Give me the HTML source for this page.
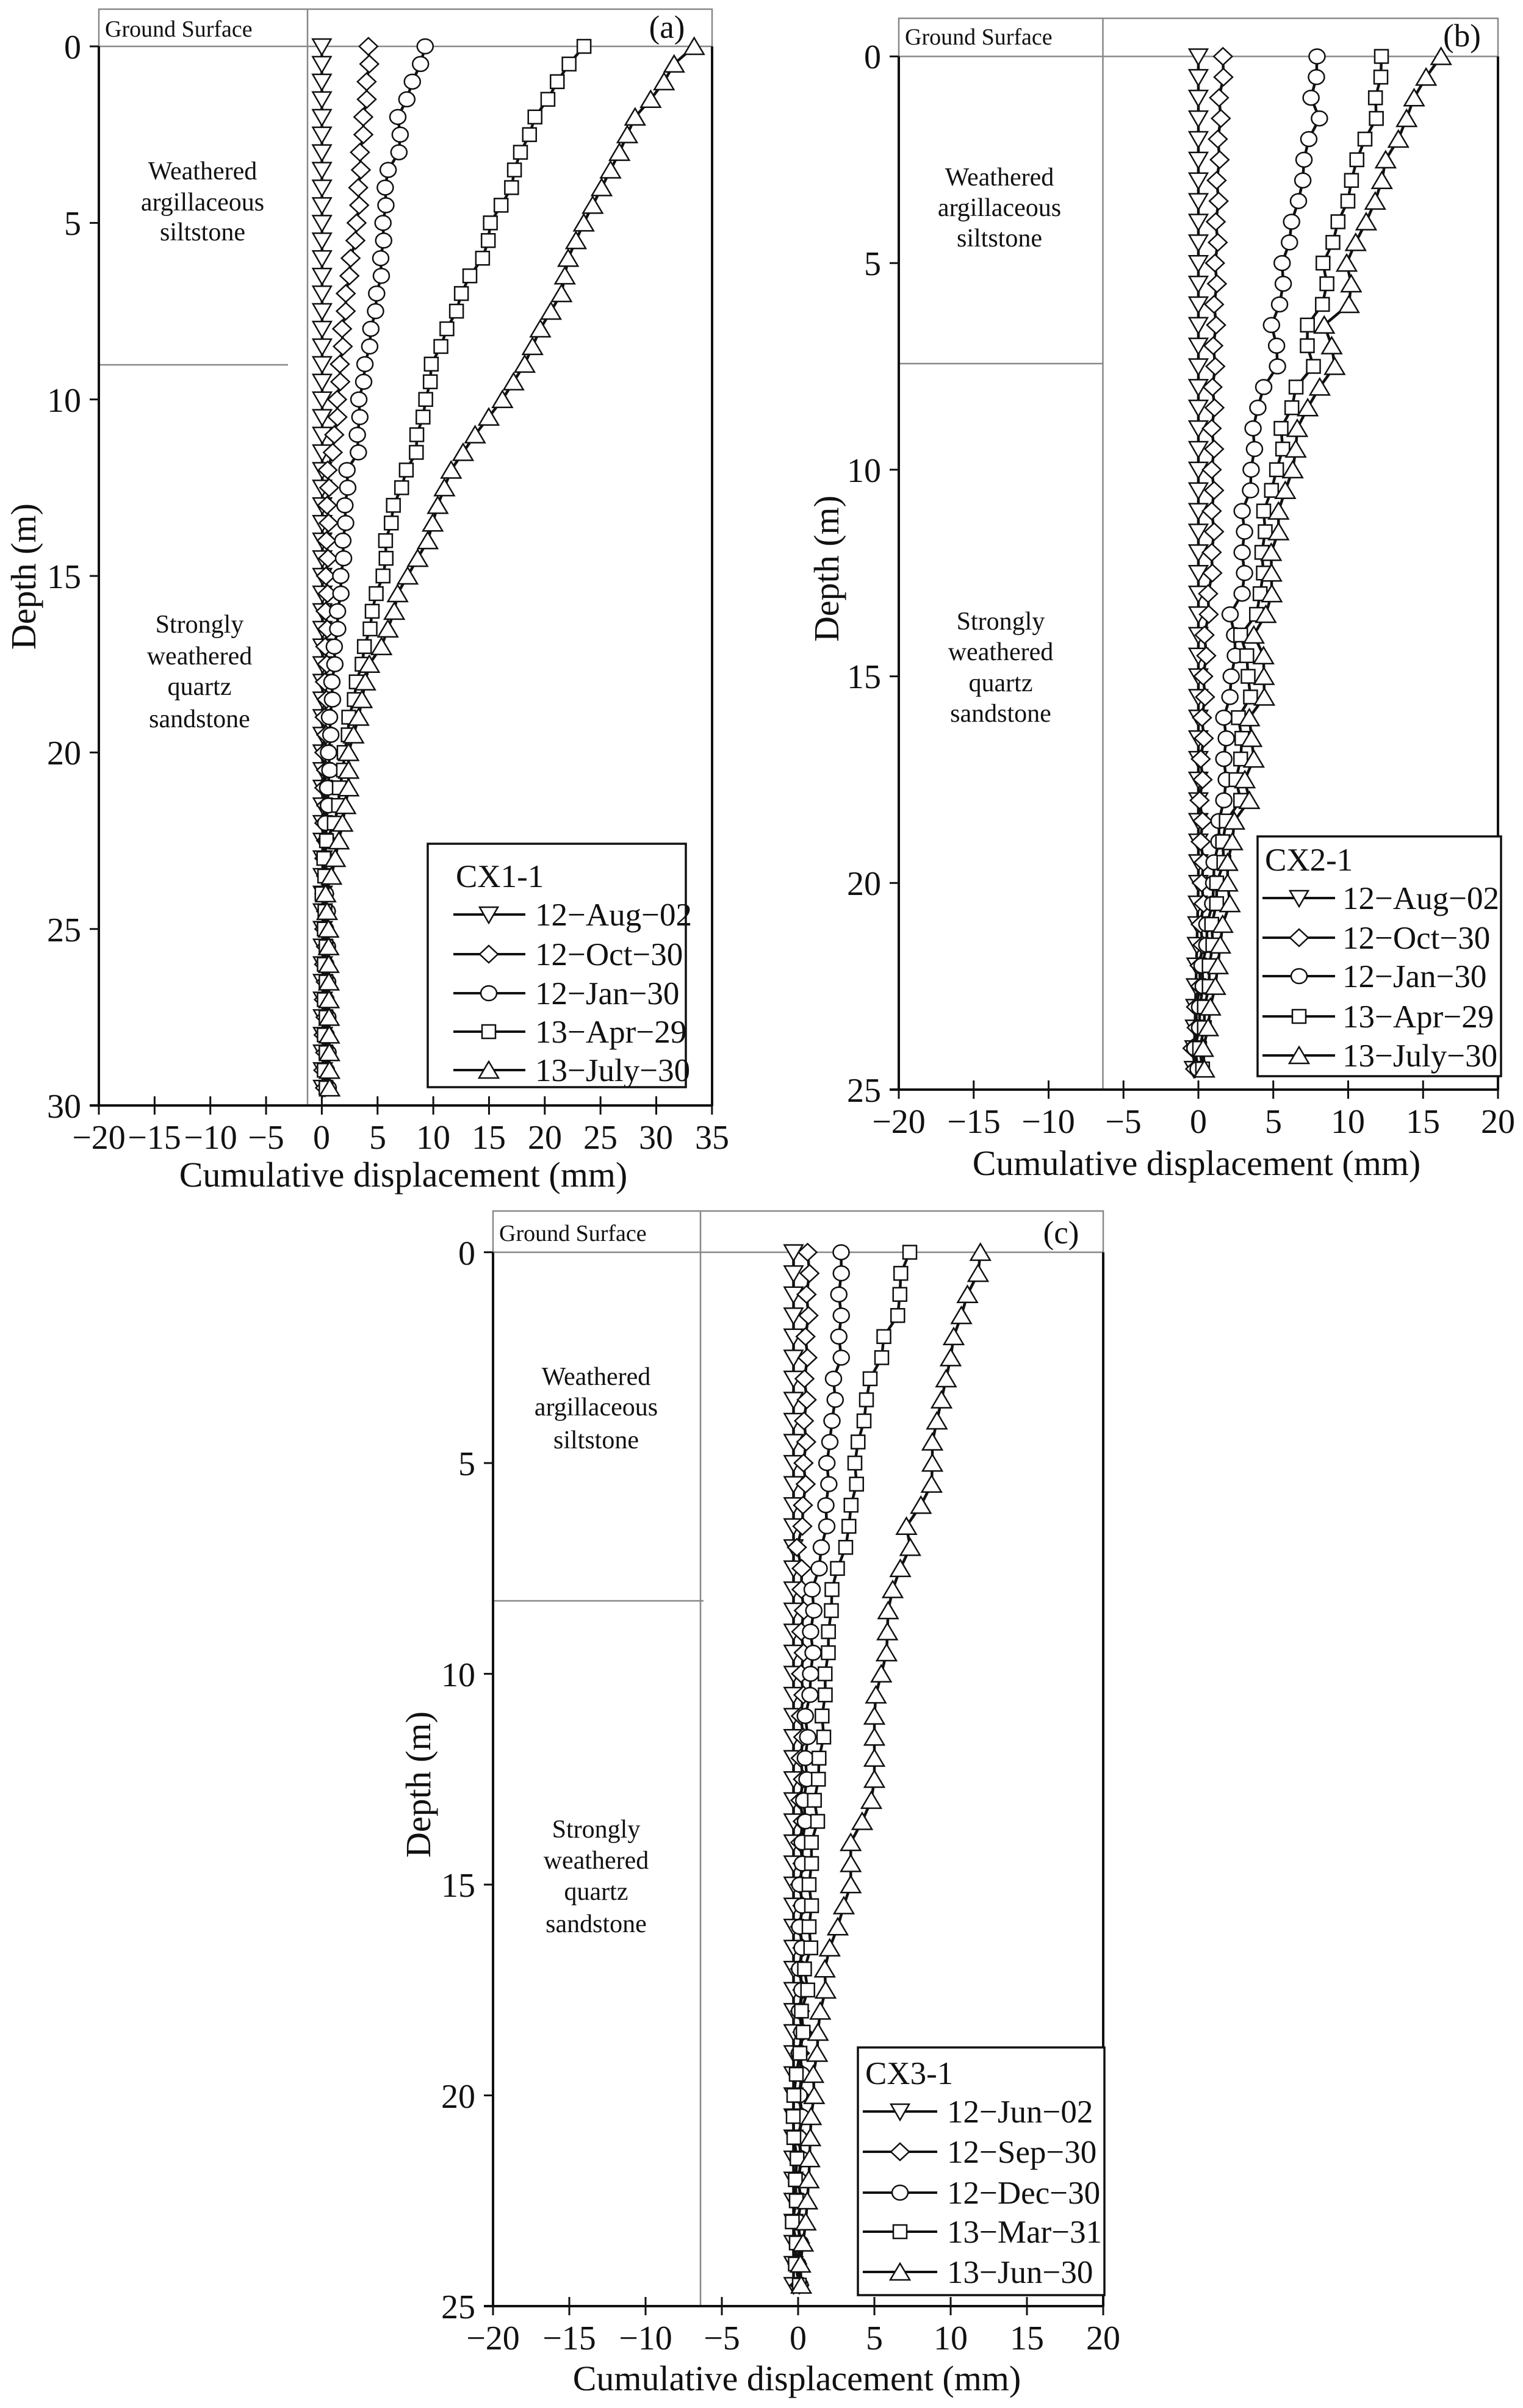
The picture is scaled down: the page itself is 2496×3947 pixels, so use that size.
<!DOCTYPE html>
<html><head><meta charset="utf-8"><style>
html,body{margin:0;padding:0;background:#fff;}
svg{display:block;}
text{font-family:"Liberation Serif",serif;fill:#111;}
.t{font-size:56px;}
.tt{font-size:58px;}
.g{font-size:38px;}
.l{font-size:42px;}
.lg{font-size:53px;}
</style></head><body>
<svg id="s" width="2496" height="3947" viewBox="0 0 2496 3947" xmlns="http://www.w3.org/2000/svg">
<g id="geo"></g>
<!-- Panel a text -->
<g class="t" text-anchor="middle">
<text x="162" y="1883">−20</text><text x="253" y="1883">−15</text><text x="345" y="1883">−10</text><text x="436" y="1883">−5</text><text x="527" y="1883">0</text><text x="619" y="1883">5</text><text x="710" y="1883">10</text><text x="801" y="1883">15</text><text x="893" y="1883">20</text><text x="984" y="1883">25</text><text x="1075" y="1883">30</text><text x="1167" y="1883">35</text>
</g>
<g class="t" text-anchor="end">
<text x="133" y="96">0</text><text x="133" y="385">5</text><text x="133" y="675">10</text><text x="133" y="964">15</text><text x="133" y="1253">20</text><text x="133" y="1543">25</text><text x="133" y="1832">30</text>
</g>
<text class="tt" x="661" y="1945" text-anchor="middle">Cumulative displacement (mm)</text>
<text class="tt" x="0" y="0" text-anchor="middle" transform="translate(58,945) rotate(-90)">Depth (m)</text>
<text class="g" x="172" y="60">Ground Surface</text>
<text class="lg" x="1093" y="62" text-anchor="middle">(a)</text>
<g class="l" text-anchor="middle">
<text x="332" y="294">Weathered</text><text x="332" y="345">argillaceous</text><text x="332" y="394">siltstone</text>
<text x="327" y="1037">Strongly</text><text x="327" y="1089">weathered</text><text x="327" y="1139">quartz</text><text x="327" y="1192">sandstone</text>
</g>
<g class="lg">
<text x="747" y="1454">CX1-1</text>
<text x="877" y="1517">12−Aug−02</text><text x="877" y="1582">12−Oct−30</text><text x="877" y="1646">12−Jan−30</text><text x="877" y="1709">13−Apr−29</text><text x="877" y="1772">13−July−30</text>
</g>
<!-- Panel b text -->
<g class="t" text-anchor="middle">
<text x="1473" y="1857">−20</text><text x="1596" y="1857">−15</text><text x="1718" y="1857">−10</text><text x="1841" y="1857">−5</text><text x="1964" y="1857">0</text><text x="2087" y="1857">5</text><text x="2209" y="1857">10</text><text x="2332" y="1857">15</text><text x="2455" y="1857">20</text>
</g>
<g class="t" text-anchor="end">
<text x="1444" y="112">0</text><text x="1444" y="451">5</text><text x="1444" y="790">10</text><text x="1444" y="1128">15</text><text x="1444" y="1467">20</text><text x="1444" y="1806">25</text>
</g>
<text class="tt" x="1961" y="1926" text-anchor="middle">Cumulative displacement (mm)</text>
<text class="tt" x="0" y="0" text-anchor="middle" transform="translate(1374,932) rotate(-90)">Depth (m)</text>
<text class="g" x="1483" y="73">Ground Surface</text>
<text class="lg" x="2396" y="76" text-anchor="middle">(b)</text>
<g class="l" text-anchor="middle">
<text x="1638" y="304">Weathered</text><text x="1638" y="354">argillaceous</text><text x="1638" y="404">siltstone</text>
<text x="1640" y="1032">Strongly</text><text x="1640" y="1082">weathered</text><text x="1640" y="1133">quartz</text><text x="1640" y="1183">sandstone</text>
</g>
<g class="lg">
<text x="2073" y="1427">CX2-1</text>
<text x="2200" y="1490">12−Aug−02</text><text x="2200" y="1555">12−Oct−30</text><text x="2200" y="1618">12−Jan−30</text><text x="2200" y="1684">13−Apr−29</text><text x="2200" y="1748">13−July−30</text>
</g>
<!-- Panel c text -->
<g class="t" text-anchor="middle">
<text x="808" y="3851">−20</text><text x="933" y="3851">−15</text><text x="1058" y="3851">−10</text><text x="1183" y="3851">−5</text><text x="1308" y="3851">0</text><text x="1433" y="3851">5</text><text x="1558" y="3851">10</text><text x="1683" y="3851">15</text><text x="1808" y="3851">20</text>
</g>
<g class="t" text-anchor="end">
<text x="779" y="2073">0</text><text x="779" y="2418">5</text><text x="779" y="2764">10</text><text x="779" y="3109">15</text><text x="779" y="3455">20</text><text x="779" y="3800">25</text>
</g>
<text class="tt" x="1306" y="3918" text-anchor="middle">Cumulative displacement (mm)</text>
<text class="tt" x="0" y="0" text-anchor="middle" transform="translate(705,2925) rotate(-90)">Depth (m)</text>
<text class="g" x="818" y="2034">Ground Surface</text>
<text class="lg" x="1739" y="2038" text-anchor="middle">(c)</text>
<g class="l" text-anchor="middle">
<text x="977" y="2270">Weathered</text><text x="977" y="2320">argillaceous</text><text x="977" y="2374">siltstone</text>
<text x="977" y="3012">Strongly</text><text x="977" y="3063">weathered</text><text x="977" y="3114">quartz</text><text x="977" y="3167">sandstone</text>
</g>
<g class="lg">
<text x="1418" y="3416">CX3-1</text>
<text x="1552" y="3479">12−Jun−02</text><text x="1552" y="3545">12−Sep−30</text><text x="1552" y="3612">12−Dec−30</text><text x="1552" y="3676">13−Mar−31</text><text x="1552" y="3742">13−Jun−30</text>
</g>
</svg>
<script>
(function(){
var NS="http://www.w3.org/2000/svg",G=document.getElementById("geo");
function el(t,a){var e=document.createElementNS(NS,t);for(var k in a)e.setAttribute(k,a[k]);G.appendChild(e);return e;}
function line(x1,y1,x2,y2,c,w){el("line",{x1:x1,y1:y1,x2:x2,y2:y2,stroke:c,"stroke-width":w});}
function marker(m,x,y){var st={fill:"#fff",stroke:"#111","stroke-width":2.5};var o;
 if(m=="td"){st.points=(x-15)+","+(y-12)+" "+(x+15)+","+(y-12)+" "+x+","+(y+14);o=el("polygon",st);}
 else if(m=="tu"){st.points=(x-16)+","+(y+13)+" "+(x+16)+","+(y+13)+" "+x+","+(y-14);o=el("polygon",st);}
 else if(m=="di"){st.points=(x-15)+","+y+" "+x+","+(y-14)+" "+(x+15)+","+y+" "+x+","+(y+14);o=el("polygon",st);}
 else if(m=="ci"){st.cx=x;st.cy=y;st.rx=13;st.ry=12;o=el("ellipse",st);}
 else {st.x=x-11;st.y=y-11;st.width=22;st.height=22;o=el("rect",st);}
}
function interp(p,d){for(var i=0;i<p.length-1;i++){if(d>=p[i][0]&&d<=p[i+1][0]){var t=(d-p[i][0])/(p[i+1][0]-p[i][0]||1);return p[i][1]+t*(p[i+1][1]-p[i][1]);}}return p[p.length-1][1];}
var MK=["td","di","ci","sq","tu"];
function panel(c){
 el("rect",{x:c.L,y:c.T,width:c.R-c.L,height:c.y0-c.T,fill:"none",stroke:"#888","stroke-width":2.5});
 line(c.gx,c.T,c.gx,c.yb,"#888",2.5);
 line(c.L,c.ly,c.lx,c.ly,"#888",2.5);
 line(c.L,c.y0,c.L,c.yb+1,"#111",4);
 line(c.R,c.y0,c.R,c.yb+1,"#111",4);
 line(c.L-15,c.yb,c.R,c.yb,"#111",4);
 for(var v=c.xmin;v<=c.xmax;v+=5){var x=c.x0+v*c.s;line(x,c.yb-15,x,c.yb+15,"#111",3);}
 for(var d=0;d<=c.dmax;d+=5){var y=c.y0+d*c.pm;line(c.L-15,y,c.L,y,"#111",3);}
 for(var k=0;k<c.ser.length;k++){
  var pts=[],p=c.ser[k];
  for(var d=0;d<=c.dend+1e-6;d+=0.5){var zz=(k>0&&k<4)?((Math.round(d*2)%2)?0.08:-0.08):0;pts.push([c.x0+(interp(p,d)+zz)*c.s,c.y0+d*c.pm]);}
  el("polyline",{points:pts.map(function(q){return q[0].toFixed(1)+","+q[1].toFixed(1)}).join(" "),fill:"none",stroke:"#111","stroke-width":4.5});
  pts.forEach(function(q){marker(MK[k],q[0],q[1]);});
 }
 el("rect",{x:c.lgx1,y:c.lgy1,width:c.lgx2-c.lgx1,height:c.lgy2-c.lgy1,fill:"#fff",stroke:"#111","stroke-width":3.5});
 for(var k=0;k<5;k++){var y=c.rows[k];line(c.lx1,y,c.lx2,y,"#111",4);marker(MK[k],c.mx,y);}
}
panel({L:162,R:1167,T:15,y0:76,yb:1812,x0:527.4,s:18.27,pm:57.87,gx:504,ly:598,lx:472,xmin:-20,xmax:35,dmax:30,dend:29.5,
 lgx1:701,lgx2:1124,lgy1:1383,lgy2:1782,rows:[1499,1564,1628,1691,1754],lx1:743,lx2:861,mx:801,
 ser:[
 [[0,0],[29.5,0.1]],
 [[0,4.26],[1,4.1],[3,3.5],[5,3.2],[6.5,2.4],[8,1.9],[9,1.7],[11,1.2],[12,0.6],[15,0.45],[20,0.3],[25,0.3],[29.5,0.2]],
 [[0,9.35],[1,8.2],[2,6.9],[3,7],[3.5,5.87],[5,5.57],[6.5,5.26],[8,4.48],[9,3.95],[10,3.4],[11.5,3.2],[12,2.34],[15,1.78],[17,1.2],[19,0.77],[21,0.6],[22.5,0.34],[24,0.4],[29.5,0.5]],
 [[0,23.6],[0.5,22.1],[1,21.2],[1.5,20.2],[2,19.2],[3,17.9],[3.5,17.2],[4,17.1],[4.5,16],[5,15.2],[6,14.5],[6.5,13.2],[7.5,12],[8,11.3],[9,9.9],[10,9.4],[11,8.6],[11.5,8.4],[12,7.66],[13,6.5],[14,5.8],[15,5.57],[15.5,4.8],[16,4.6],[17,3.9],[18,3.17],[19,2.5],[20,2.08],[21,1.65],[22,1.2],[22.5,0.34],[24,0.1],[25,0.3],[29.5,0.3]],
 [[0,33.4],[0.5,31.6],[1,30.7],[1.5,29.5],[2,28.1],[3,26.7],[4,25.1],[5,23.5],[6,22.1],[7,21.5],[8,19.6],[9,18.2],[10,16.2],[11,13.75],[12,11.6],[13,10.4],[14,9.5],[15,7.7],[15.5,6.8],[16,6.5],[17,5.35],[17.5,4.26],[18,3.9],[19,3.3],[20,2.4],[21,2.4],[22,1.86],[23,1.2],[23.5,0.86],[24,0.34],[25,0.6],[29.5,0.7]]
 ]});
panel({L:1473,R:2455,T:30,y0:92.5,yb:1786,x0:1964,s:24.55,pm:67.74,gx:1807.5,ly:596,lx:1807.5,xmin:-20,xmax:20,dmax:25,dend:24.5,
 lgx1:2061,lgx2:2460,lgy1:1371,lgy2:1764,rows:[1472,1537,1600,1666,1730],lx1:2069,lx2:2188,mx:2129,
 ser:[
 [[0,0],[20,0],[24.5,-0.3]],
 [[0,1.72],[1,1.46],[3,1.3],[6,1.13],[9,0.97],[12,0.97],[14,0.49],[16,0.32],[18,0.16],[20,0.3],[22,0.16],[24,-0.32],[24.5,-0.3]],
 [[0,8],[1,7.6],[1.5,8],[2,7.45],[2.5,6.97],[3,7.05],[3.5,6.6],[4,6.3],[4.5,6],[5,5.67],[6,5.5],[6.5,4.8],[7,5.3],[7.5,5.2],[8,4.44],[8.5,3.89],[9,3.73],[10,3.6],[10.5,3.4],[11,3],[13,3],[13.5,2.04],[14,2.5],[15,2.27],[16,1.78],[18,1.78],[18.5,1.3],[19,1.45],[19.5,0.97],[20,1.1],[21,0.65],[22,0.32],[23,0.16],[24,-0.16],[24.5,-0.1]],
 [[0,12.3],[0.5,12.1],[1,11.9],[1.5,11.8],[2,11.2],[2.5,10.5],[3,10.3],[3.5,9.9],[4,9.4],[4.5,8.9],[5,8.4],[5.5,8.5],[6,8.36],[6.5,7.2],[7,7.35],[7.5,7.6],[8,6.6],[8.5,6.16],[9,5.6],[9.5,5.55],[10,5.3],[10.5,4.8],[11,4.44],[13,4.2],[13.5,3.8],[14,2.9],[15,3.4],[15.5,3.4],[16,2.75],[17,2.9],[17.5,2.43],[18,2.9],[18.5,1.78],[19.5,1.62],[20,1.3],[21,0.97],[22,0.8],[23,0.48],[24,0.16],[24.5,0.2]],
 [[0,16.2],[0.5,15.2],[1,14.4],[1.5,13.9],[2,13.35],[2.5,12.5],[3,12.25],[3.5,11.8],[4,11.2],[4.5,10.5],[5,9.9],[5.5,10.2],[6,10.05],[6.5,8.4],[7,8.9],[7.5,9.1],[8,8.1],[8.5,7.3],[9,6.6],[9.5,6.5],[10,6.3],[10.5,5.8],[11,5.35],[11.5,5.35],[12,4.86],[13,4.9],[13.5,4.5],[14,3.7],[14.5,4.35],[15.5,4.4],[16,3.4],[17,3.7],[17.5,3.1],[18,3.4],[18.5,2.4],[19,2.27],[19.5,1.95],[20,1.95],[20.5,2.1],[21,1.62],[21.5,1.46],[22,1.3],[22.5,1.13],[23,0.8],[23.5,0.65],[24,0.32],[24.5,0.4]]
 ]});
panel({L:808,R:1808,T:1985,y0:2052.6,yb:3780,x0:1308,s:25,pm:69.1,gx:1148,ly:2624,lx:1153,xmin:-20,xmax:20,dmax:25,dend:24.5,
 lgx1:1406,lgx2:1810,lgy1:3356,lgy2:3762,rows:[3461,3527,3594,3658,3724],lx1:1414,lx2:1536,mx:1475,
 ser:[
 [[0,-0.3],[24.5,-0.3]],
 [[0,0.7],[3,0.5],[6,0.4],[7,0],[8,0.3],[15,0.2],[20,0.2],[24.5,0]],
 [[0,2.9],[0.5,2.75],[2.5,2.75],[3,2.4],[4,2.3],[4.5,2],[6,1.9],[6.5,1.8],[7,1.6],[7.5,1.3],[8,1],[9,0.9],[10,0.9],[10.5,0.7],[11,0.55],[12,0.55],[14,0.35],[14.5,0.2],[20,0.15],[24.5,0.05]],
 [[0,7.4],[0.5,6.65],[1,6.75],[1.5,6.45],[2,5.7],[2.5,5.4],[3,4.8],[3.5,4.4],[4,4.4],[4.5,3.85],[5.5,3.75],[6,3.55],[6.5,3.25],[7,3.2],[7.5,2.5],[8,2.3],[8.5,2.1],[9,2.07],[9.5,1.9],[10,1.85],[10.5,1.7],[11.5,1.6],[12,1.45],[12.5,1.25],[13,1.15],[13.5,1.2],[14,0.95],[14.5,0.8],[16,0.8],[16.5,0.75],[17,0.5],[17.5,0.55],[18,0.3],[19,0.2],[19.5,-0.2],[20,-0.2],[20.5,-0.4],[21,-0.2],[22,-0.1],[23,-0.3],[24.5,0]],
 [[0,11.95],[0.5,11.8],[1,11.1],[1.5,10.7],[2,10.2],[2.5,10],[3,9.7],[3.5,9.4],[4,9.1],[4.5,8.8],[5,8.8],[5.5,8.75],[6,8.05],[6.5,7.1],[7,7.35],[7.5,6.7],[8,6.2],[8.5,5.9],[9.5,5.8],[10,5.45],[10.5,5.1],[11,5],[12.5,5],[13,4.8],[13.5,4.2],[14,3.45],[15,3.45],[15.5,3],[16,2.6],[16.5,2.07],[17,1.75],[17.5,1.8],[18,1.45],[18.5,1.3],[19,1.25],[19.5,1],[20,1.05],[20.5,0.85],[22,0.7],[22.5,0.6],[23,0.5],[24,0.15],[24.5,0.2]]
 ]});
})();
</script>
</body></html>
